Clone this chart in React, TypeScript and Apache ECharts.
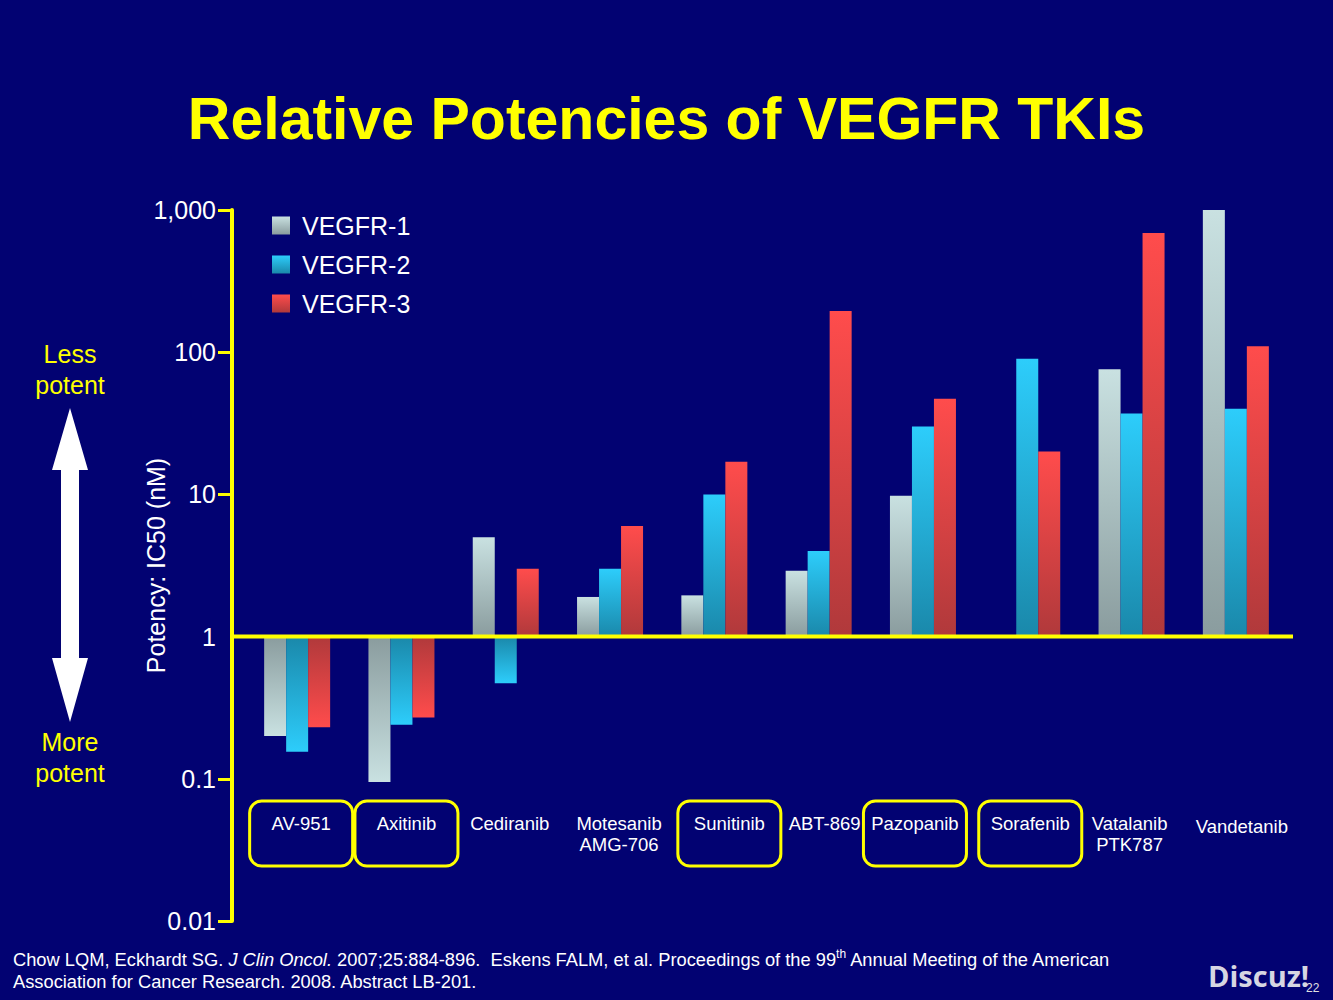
import React, { useEffect, useRef } from 'react';
import * as echarts from 'echarts';

// ---------- data ----------
const categories = [
  'AV-951',
  'Axitinib',
  'Cediranib',
  'Motesanib\nAMG-706',
  'Sunitinib',
  'ABT-869',
  'Pazopanib',
  'Sorafenib',
  'Vatalanib\nPTK787',
  'Vandetanib',
];
const boxedCategories = ['AV-951', 'Axitinib', 'Sunitinib', 'Pazopanib', 'Sorafenib'];
const seriesNames = ['VEGFR-1', 'VEGFR-2', 'VEGFR-3'];
// IC50 (nM)
const vegfr1 = [0.2, 0.095, 5, 1.9, 1.95, 2.9, 9.8, null, 76, 1000];
const vegfr2 = [0.155, 0.24, 0.47, 3, 10, 4, 30, 90, 37, 40];
const vegfr3 = [0.23, 0.27, 3, 6, 17, 195, 47, 20, 690, 110];
const yTickLabels = ['0.01', '0.1', '1', '10', '100', '1,000'];
const yTickExponents = [-2, -1, 0, 1, 2, 3];

// ---------- layout / style (not data) ----------
const labelShift = [4, 5, 4, 9, 15, 6, -8, 3, -2, 6];
const FONT = '"Liberation Sans", Arial, sans-serif';
const BG = '#020272';
const YELLOW = '#ffff00';
const gradients = [
  ['#c9e1e1', '#8a9c9e'],
  ['#2dcdfb', '#1a88aa'],
  ['#ff4c4c', '#b0393b'],
];
const CAT_FONT = 18.5;

function grad(top: string, bottom: string) {
  return new echarts.graphic.LinearGradient(0, 0, 0, 1, [
    { offset: 0, color: top },
    { offset: 1, color: bottom },
  ]);
}

function buildSeries(values: (number | null)[], idx: number) {
  const [light, dark] = gradients[idx];
  return {
    name: seriesNames[idx],
    type: 'bar',
    barWidth: 22,
    barGap: '0%',
    itemStyle: { color: grad(light, dark) },
    data: values.map((v) =>
      v == null
        ? null
        : {
            value: Math.log10(v),
            itemStyle: { color: v < 1 ? grad(dark, light) : grad(light, dark) },
          }
    ),
  };
}

const rich: Record<string, any> = {
  box: {
    width: 91,
    height: 20,
    lineHeight: 65,
    align: 'center',
    padding: [12, 6, 33, 6],
    borderColor: YELLOW,
    borderWidth: 3,
    borderRadius: 12,
    color: '#ffffff',
    fontSize: CAT_FONT,
    fontFamily: FONT,
  },
  p1: { height: 21, lineHeight: 33, padding: [12, 0, 0, 0], color: '#ffffff', fontSize: CAT_FONT, fontFamily: FONT },
  pv: { height: 21, lineHeight: 36, padding: [15, 0, 0, 0], color: '#ffffff', fontSize: CAT_FONT, fontFamily: FONT },
  p2: { lineHeight: 21, color: '#ffffff', fontSize: CAT_FONT, fontFamily: FONT },
};
labelShift.forEach((s, i) => {
  rich['s' + i] = { width: Math.abs(s) * 2, lineHeight: 10, fontSize: 8 };
});

function labelFormatter(value: string, index: number) {
  const s = labelShift[index];
  const pad = (t: string) => (s >= 0 ? `{s${index}| }${t}` : `${t}{s${index}| }`);
  if (boxedCategories.indexOf(value) >= 0) return pad(`{box|${value}}`);
  const lines = value.split('\n');
  const first = index === categories.length - 1 ? `{pv|${lines[0]}}` : `{p1|${lines[0]}}`;
  if (lines.length === 1) return pad(first);
  return pad(first) + '\n' + pad(`{p2|${lines[1]}}`);
}

const staticGraphics: any[] = [
  {
    type: 'text',
    left: 'center',
    top: 89,
    style: {
      text: 'Relative Potencies of VEGFR TKIs',
      fill: YELLOW,
      font: `bold 59px ${FONT}`,
    },
  },
  {
    type: 'text',
    x: 70,
    y: 369,
    style: {
      text: 'Less\npotent',
      fill: YELLOW,
      fontSize: 25,
      fontFamily: FONT,
      lineHeight: 31,
      align: 'center',
      verticalAlign: 'middle',
    },
  },
  {
    type: 'text',
    x: 70,
    y: 757,
    style: {
      text: 'More\npotent',
      fill: YELLOW,
      fontSize: 25,
      fontFamily: FONT,
      lineHeight: 31,
      align: 'center',
      verticalAlign: 'middle',
    },
  },
  {
    type: 'polygon',
    shape: {
      points: [
        [70, 408], [88, 470], [79, 470], [79, 658], [88, 658],
        [70, 722], [52, 658], [61, 658], [61, 470], [52, 470],
      ],
    },
    style: { fill: '#ffffff' },
  },
  {
    type: 'text',
    x: 13,
    y: 948,
    style: {
      text:
        'Chow LQM, Eckhardt SG. {i|J Clin Oncol.} 2007;25:884-896.  Eskens FALM, et al. Proceedings of the 99{sup|th} Annual Meeting of the American\nAssociation for Cancer Research. 2008. Abstract LB-201.',
      fill: '#ffffff',
      fontSize: 18.3,
      fontFamily: FONT,
      lineHeight: 22,
      rich: {
        i: { fontStyle: 'italic', fontSize: 18.3, fontFamily: FONT, fill: '#ffffff', lineHeight: 22 },
        sup: { fontSize: 12, fontFamily: FONT, fill: '#ffffff', verticalAlign: 'top', lineHeight: 22, padding: [0, 0, 8, 0] },
      },
    },
  },
  {
    type: 'text',
    x: 1208,
    y: 975,
    style: {
      text: 'Discuz!',
      fill: '#d6d6e2',
      font: `bold 29px "Open Sans", "DejaVu Sans", sans-serif`,
      verticalAlign: 'middle',
    },
  },
  {
    type: 'text',
    x: 1306,
    y: 988,
    style: { text: '22', fill: '#e0e0e0', fontSize: 12, fontFamily: FONT, verticalAlign: 'middle' },
  },
];

export default function App() {
  const ref = useRef<HTMLDivElement>(null);
  useEffect(() => {
    document.body.style.margin = '0';
    const chart = echarts.init(ref.current!, null, { renderer: 'svg' });
    const option: any = {
      animation: false,
      backgroundColor: BG,
      textStyle: { fontFamily: FONT },
      grid: { left: 245, right: 45, top: 210, bottom: 79, containLabel: false },
      legend: {
        orient: 'vertical',
        left: 267,
        top: 208,
        itemWidth: 18,
        itemHeight: 18,
        itemGap: 14,
        icon: 'rect',
        data: seriesNames,
        textStyle: { color: '#ffffff', fontSize: 25, fontFamily: FONT, lineHeight: 25, padding: [0, 0, 0, 7] },
      },
      xAxis: {
        type: 'category',
        data: categories,
        position: 'bottom',
        offset: -120,
        axisLine: { show: false },
        axisTick: { show: false },
        axisLabel: {
          interval: 0,
          margin: 0,
          color: '#ffffff',
          fontSize: CAT_FONT,
          fontFamily: FONT,
          formatter: labelFormatter,
          rich,
        },
        splitLine: { show: false },
      },
      yAxis: {
        type: 'value',
        min: -2,
        max: 3,
        interval: 1,
        offset: 13,
        name: 'Potency: IC50 (nM)',
        nameLocation: 'middle',
        nameGap: 64,
        nameMoveOverlap: false,
        nameTextStyle: { color: '#ffffff', fontSize: 25, fontFamily: FONT },
        axisLine: { show: true, lineStyle: { color: YELLOW, width: 4 } },
        axisTick: {
          show: true,
          length: 14,
          inside: false,
          lineStyle: { color: YELLOW, width: 3 },
          customValues: [-2, -1, 1, 2, 3],
        },
        axisLabel: {
          color: '#ffffff',
          fontSize: 25,
          fontFamily: FONT,
          margin: 16,
          customValues: yTickExponents,
          formatter: (v: number) => yTickLabels[yTickExponents.indexOf(Math.round(v))],
        },
        splitLine: { show: false },
      },
      series: [buildSeries(vegfr1, 0), buildSeries(vegfr2, 1), buildSeries(vegfr3, 2)],
      graphic: staticGraphics,
    };
    chart.setOption(option);
    const y0 = chart.convertToPixel({ yAxisIndex: 0 }, 0) as number;
    chart.setOption({
      graphic: [
        ...staticGraphics,
        {
          type: 'line',
          z: 100,
          shape: { x1: 232, y1: y0, x2: 1293, y2: y0 },
          style: { stroke: YELLOW, lineWidth: 4 },
        },
      ],
    });
    return () => chart.dispose();
  }, []);
  return <div ref={ref} style={{ width: 1333, height: 1000 }} />;
}
